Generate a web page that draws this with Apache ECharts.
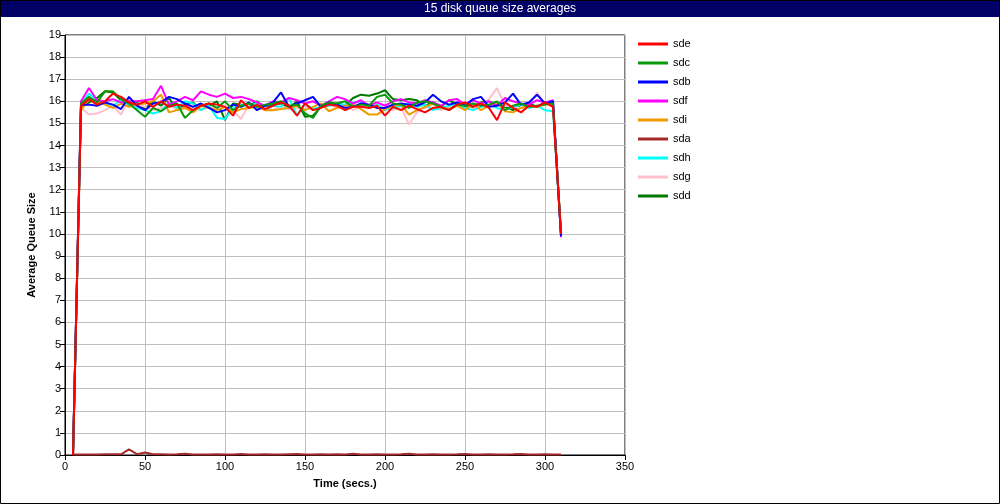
<!DOCTYPE html>
<html>
<head>
<meta charset="utf-8">
<script src="https://cdn.jsdelivr.net/npm/echarts@6/dist/echarts.min.js"></script>
<style>
html,body{margin:0;padding:0;background:#fff;}
#c{width:1000px;height:504px;}
</style>
</head>
<body>
<div id="c"></div>
<script>
const titleText = "15 disk queue size averages";
const xName = "Time (secs.)";
const yName = "Average Queue Size";
const seriesNames = ["sde","sdc","sdb","sdf","sdi","sda","sdh","sdg","sdd"];
const seriesColors = ["#ff0000","#0a990a","#0000ff","#ff00ff","#ee9900","#a52a2a","#00ffff","#ffc0cb","#007800"];

const times = [5,10,15,20,25,30,35,40,45,50,55,60,65,70,75,80,85,90,95,100,105,110,115,120,125,130,135,140,145,150,155,160,165,170,175,180,185,190,195,200,205,210,215,220,225,230,235,240,245,250,255,260,265,270,275,280,285,290,295,300,305,310];

const sde = [0,15.8,16.1,15.85,16.0,16.35,16.2,15.95,15.85,16.0,15.75,16.0,15.75,15.85,15.8,15.6,15.8,15.9,15.85,15.75,15.35,16.05,15.7,15.85,15.65,15.8,15.95,15.8,15.35,15.9,15.6,15.7,15.85,15.8,15.6,15.75,15.75,15.7,15.8,15.35,15.75,15.6,15.8,15.65,15.5,15.7,15.75,15.6,15.85,15.95,15.75,15.9,15.7,15.15,15.95,15.7,15.5,15.8,15.75,15.95,15.75,10.0];
const sdc = [0,15.9,16.2,15.95,16.45,16.45,16.1,15.9,15.6,15.3,15.7,15.55,15.8,15.9,15.25,15.6,15.8,15.9,15.7,16.0,15.6,15.8,15.9,15.75,15.85,15.9,16.0,15.8,15.85,15.45,15.25,15.8,15.95,15.9,16.0,15.75,15.85,15.8,16.2,16.3,15.9,15.85,15.7,15.95,16.0,15.9,15.75,15.6,15.85,15.8,15.9,15.8,15.85,16.0,15.6,15.8,15.9,15.75,15.8,15.85,15.9,10.0];
const sdb = [0,15.85,15.85,15.8,15.95,15.85,15.65,16.2,15.8,15.6,15.9,15.95,16.2,16.1,15.9,15.75,15.9,15.7,15.5,15.6,15.85,15.75,15.95,15.6,15.8,15.95,16.4,15.75,15.9,16.05,16.2,15.75,15.95,15.85,15.7,15.75,15.9,15.85,15.7,15.7,15.85,15.9,15.85,15.8,15.95,16.3,16.0,15.85,15.95,15.8,16.1,16.2,15.75,15.8,15.95,16.35,15.85,15.95,16.3,15.9,16.0,9.9];
const sdf = [0,16.0,16.6,16.05,16.0,16.1,15.95,16.0,16.0,16.05,16.1,16.7,15.85,16.0,16.2,16.05,16.45,16.3,16.2,16.35,16.15,16.2,16.1,15.95,15.8,16.0,15.95,16.15,16.05,15.9,16.0,15.8,16.0,16.2,16.1,15.9,16.05,15.8,15.95,15.8,16.0,16.1,15.95,15.9,16.05,15.95,15.8,16.05,16.1,15.85,16.05,15.9,16.0,15.8,16.15,16.0,15.9,15.85,16.05,15.95,16.05,9.85];
const sdi = [0,15.6,16.1,16.0,15.85,15.7,15.9,15.75,15.85,15.9,16.0,16.3,15.5,15.6,15.7,15.5,15.8,15.7,15.6,15.75,15.5,15.65,15.7,15.75,15.6,15.6,15.65,15.7,15.8,15.6,15.75,15.9,15.55,15.7,15.8,15.85,15.65,15.4,15.4,15.65,15.8,15.85,15.4,15.6,15.75,15.9,15.7,15.65,15.8,15.6,15.9,15.6,15.8,15.95,15.55,15.5,15.7,15.8,15.75,15.85,15.9,10.0];
const sda = [0.02,0.02,0.02,0.02,0.03,0.03,0.03,0.25,0.04,0.11,0.03,0.03,0.02,0.03,0.06,0.02,0.02,0.02,0.03,0.02,0.02,0.04,0.02,0.02,0.03,0.02,0.02,0.03,0.04,0.02,0.02,0.03,0.02,0.03,0.02,0.06,0.02,0.02,0.03,0.02,0.02,0.03,0.06,0.02,0.02,0.03,0.02,0.02,0.03,0.05,0.02,0.02,0.03,0.02,0.02,0.03,0.05,0.02,0.02,0.03,0.02,0.02];
const sdh = [0,15.9,16.35,16.05,15.95,15.8,16.05,15.85,15.7,15.6,15.45,15.55,15.95,15.7,16.0,15.9,15.6,15.8,15.25,15.2,15.7,15.85,15.75,15.95,15.6,15.8,15.75,16.15,15.35,15.9,15.65,15.75,15.8,15.9,15.85,15.95,16.0,15.75,15.85,15.6,15.7,15.8,15.9,15.75,15.85,15.6,15.7,15.8,15.9,15.7,15.6,15.75,15.85,15.7,15.6,15.75,15.85,15.7,15.8,15.6,15.55,10.0];
const sdg = [0,15.7,15.4,15.45,15.6,15.8,15.4,16.1,15.85,15.75,15.6,15.7,15.8,15.65,15.7,15.85,15.6,15.75,15.65,15.8,15.6,15.2,15.85,15.7,15.75,15.6,15.8,15.65,15.7,15.8,15.6,15.75,15.9,15.7,15.85,15.6,15.75,15.8,15.7,15.85,15.6,15.75,14.95,15.5,15.7,15.85,15.6,15.75,15.8,15.7,15.65,15.85,16.1,16.6,15.8,15.75,15.7,15.85,16.4,15.9,15.8,10.0];
const sdd = [0,15.75,15.95,16.15,16.45,16.4,16.05,15.8,15.95,15.65,16.0,15.8,16.15,15.6,15.85,15.95,15.6,15.8,16.0,15.15,15.9,15.85,15.8,16.0,15.7,15.85,15.9,15.7,16.0,15.3,15.35,15.75,15.85,15.9,15.8,16.15,16.3,16.25,16.35,16.5,16.1,16.05,16.1,16.05,15.8,15.95,15.75,16.05,15.85,15.8,15.75,15.95,16.0,15.85,15.75,15.6,15.85,15.9,15.75,15.95,15.85,10.1];

const seriesValues = [sde,sdc,sdb,sdf,sdi,sda,sdh,sdg,sdd];

const FONT = "'Liberation Sans', Arial, sans-serif";

const series = [];
for (let i = seriesNames.length - 1; i >= 0; i--) {
  const vals = seriesValues[i];
  series.push({
    name: seriesNames[i],
    type: 'line',
    showSymbol: false,
    symbol: 'none',
    color: seriesColors[i],
    lineStyle: { width: 2, color: seriesColors[i] },
    data: times.map((t, k) => [t, vals[k]]).filter(p => p[1] !== undefined)
  });
}

const chart = echarts.init(document.getElementById('c'), null, { renderer: 'canvas' });
chart.setOption({
  animation: false,
  backgroundColor: '#ffffff',
  textStyle: { fontFamily: FONT },
  graphic: [
    { type: 'rect', shape: { x: 0, y: 0, width: 1000, height: 17 }, style: { fill: '#000066' }, z: 10 },
    { type: 'text', x: 500, y: 8.5, style: { text: titleText, fill: '#ffffff', font: '12px ' + FONT, align: 'center', verticalAlign: 'middle' }, z: 11 },
    { type: 'rect', shape: { x: 0.5, y: 0.5, width: 999, height: 503 }, style: { fill: null, stroke: '#000000', lineWidth: 1 }, z: 12 }
  ],
  legend: {
    data: seriesNames,
    orient: 'vertical',
    left: 638,
    top: 37,
    padding: 0,
    icon: 'rect',
    itemWidth: 30,
    itemHeight: 3,
    itemGap: 5,
    textStyle: { fontSize: 11, color: '#000', fontFamily: FONT, lineHeight: 14 }
  },
  grid: {
    left: 65, right: 375, top: 35, bottom: 49,
    show: true, borderColor: '#000', borderWidth: 1, backgroundColor: 'transparent'
  },
  xAxis: {
    type: 'value', min: 0, max: 350, interval: 50,
    name: xName, nameLocation: 'middle', nameGap: 23,
    nameTextStyle: { fontWeight: 'bold', fontSize: 11, color: '#000', fontFamily: FONT },
    axisLine: { show: true, lineStyle: { color: '#000', width: 1 } },
    axisTick: { show: true, length: 5, lineStyle: { color: '#000' } },
    axisLabel: { fontSize: 11, color: '#000', margin: 6, fontFamily: FONT },
    splitLine: { show: true, lineStyle: { color: '#c0c0c0', width: 1 } }
  },
  yAxis: {
    type: 'value', min: 0, max: 19, interval: 1,
    name: yName, nameLocation: 'middle', nameGap: 22, nameRotate: 90,
    nameTextStyle: { fontWeight: 'bold', fontSize: 11, color: '#000', fontFamily: FONT },
    axisLine: { show: true, lineStyle: { color: '#000', width: 1 } },
    axisTick: { show: true, length: 5, lineStyle: { color: '#000' } },
    axisLabel: { fontSize: 11, color: '#000', margin: 4, fontFamily: FONT },
    splitLine: { show: true, lineStyle: { color: '#c0c0c0', width: 1 } }
  },
  series: series
});
</script>
</body>
</html>
